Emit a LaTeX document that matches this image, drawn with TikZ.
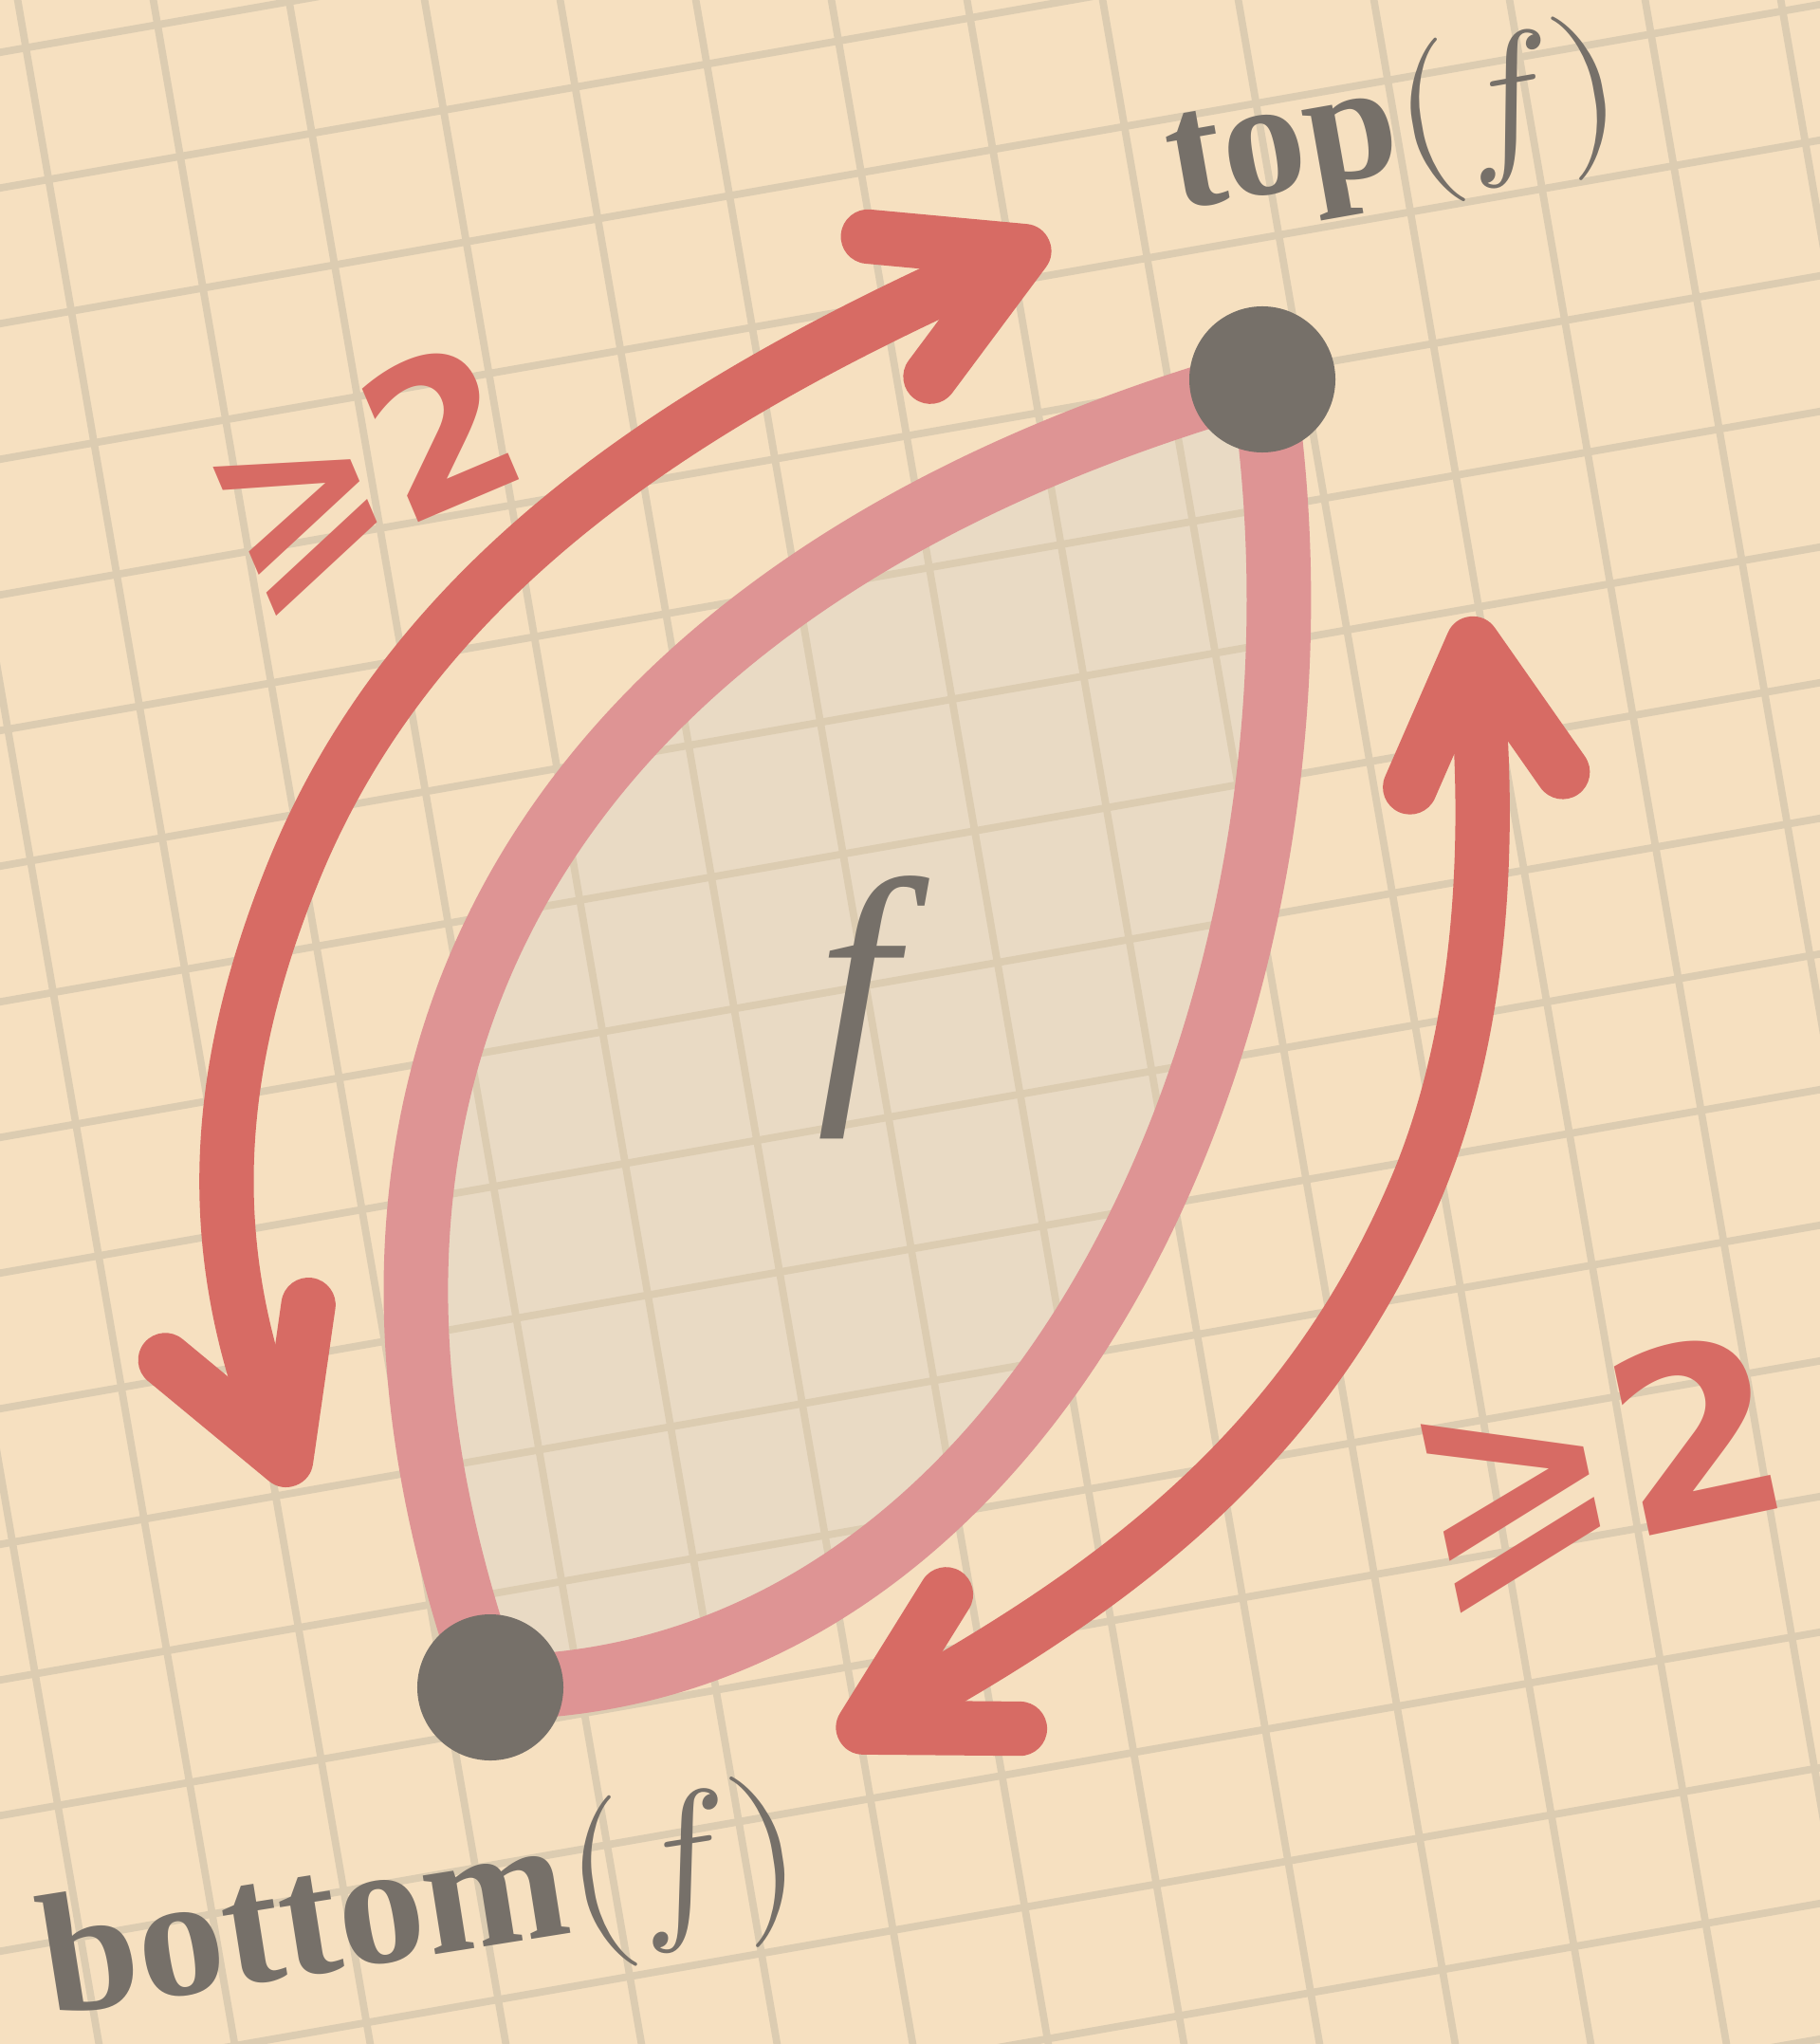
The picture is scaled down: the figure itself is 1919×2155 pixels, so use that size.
\documentclass[tikz,border=0pt]{standalone}
\usepackage{fontspec}
\usepackage{unicode-math}
\newfontfamily\countfont{DejaVu Sans Bold}
\newfontfamily\labelfont{Liberation Serif}
\usetikzlibrary{arrows.meta}
\definecolor{paper}{HTML}{F6E0C0}
\definecolor{gridtan}{HTML}{DCCCB1}
\definecolor{leafpink}{HTML}{DE9494}
\definecolor{leaffill}{HTML}{E9DAC4}
\definecolor{arrowred}{HTML}{D76B64}
\definecolor{inkgray}{HTML}{767069}
\tikzset{
  >=latex,
  % reticolo del foglio
  grid line/.style={gridtan,line width=2.2pt},
  % faccia e vertici
  leaf edge/.style={leafpink,line width=19.3pt,line cap=round,line join=round},
  vertex/.style={circle,fill=inkgray,minimum size=43.8pt,inner sep=0pt},
  vertex label/.style={text=inkgray,font=\labelfont\fontsize{#1}{#1}\selectfont,inner sep=0pt,anchor=base},
  % frecce di lunghezza
  count arrow/.style={arrowred,line width=16.3pt,line cap=round,
    {Straight Barb[round,length=41pt,width=46pt]}-{Straight Barb[round,length=41pt,width=46pt]}},
  count label/.style={text=arrowred,font=\countfont\fontsize{#1}{#1}\selectfont,inner sep=0pt}
}

\begin{document}
\begin{tikzpicture}[x=0.01cm,y=-0.01cm]
    \fill[paper](0,0) rectangle (1919,2155);
    \useasboundingbox (0,0) rectangle (1919,2155);
    \coordinate (top) at (1331,400);
    \coordinate (bot) at (517,1779);
    % faccia f
    \fill[leaffill](bot) .. controls (275,1100) and (605,605) .. (top)
      .. controls (1430,1050) and (1100,1780) .. (bot) -- cycle;
    % griglia
    \begin{scope}
      \clip (0,0) rectangle (1919,2155);
      \foreach \k in {-3,...,13}
        \draw[grid line]({10+143*\k},-50)--({399+143*\k},2205);
      \foreach \k in {-1,...,17}
        \draw[grid line](-50,{64+143*\k})--(1969,{-290+143*\k});
    \end{scope}
    \draw[leaf edge](bot) .. controls (275,1100) and (605,605) .. (top)
      .. controls (1430,1050) and (1100,1780) .. (bot);
    % frecce
    \coordinate (a1) at (1106,253);
    \coordinate (a2) at (312,1566);
    \draw[count arrow](a1) .. controls (740,416) and (440,596) .. (309,920)
      .. controls (215,1152) and (222,1333) .. (a2);
    \coordinate (b1) at (1550,650);
    \coordinate (b2) at (885,1835);
    \draw[count arrow](b1) .. controls (1570,850) and (1571,1069) .. (1493,1253)
      .. controls (1376,1529) and (1174,1676) .. (b2);
    \node[count label=62,rotate=23] (geqA) at (386,504) {⩾2};
    \node[count label=74,rotate=12] (geqB) at (1685,1552) {⩾2};
    % vertici
    \node[vertex] (topdot) at (top) {};
    \node[vertex] (botdot) at (bot) {};
    \node[vertex label=50,rotate=10] (toplabel) at (1478,180) {\bfseries top$(f)$};
    \node[vertex label=52,rotate=9] (botlabel) at (452,2062) {\bfseries bottom$(f)$};
    \node[text=inkgray,font=\labelfont\fontsize{86}{90}\selectfont] (facelabel) at (903,1062) {\itshape f};
  \end{tikzpicture}
\end{document}
